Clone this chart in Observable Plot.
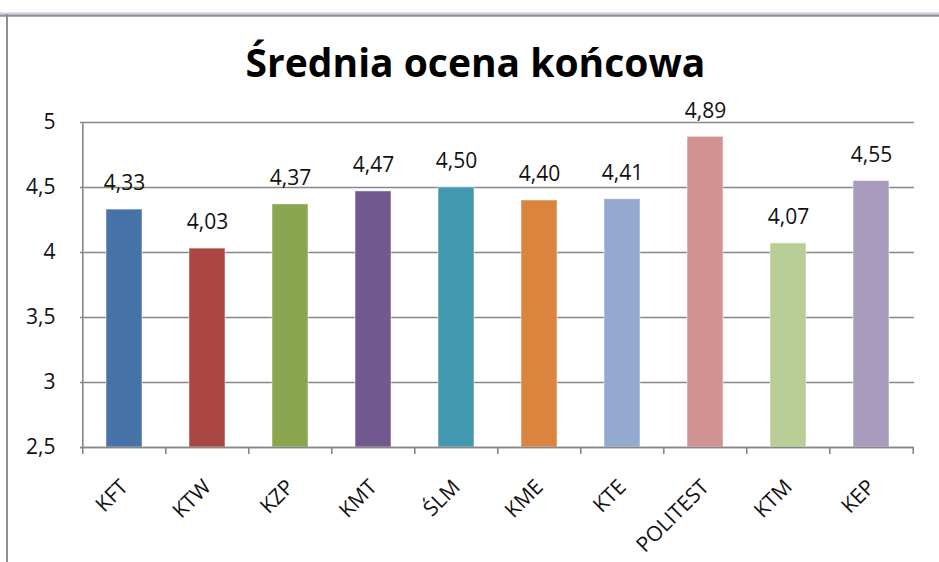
<!DOCTYPE html>
<html>
<head>
<meta charset="utf-8">
<script src="https://cdn.jsdelivr.net/npm/d3@7"></script>
<script src="https://cdn.jsdelivr.net/npm/@observablehq/plot@0.6"></script>
<style>
  html, body { margin: 0; padding: 0; background: #fff; }
  #wrap { position: relative; width: 939px; height: 562px; overflow: hidden; font-family: "Open Sans", sans-serif; }
  #frameTop { position: absolute; left: 0; top: 12px; width: 939px; height: 5px; background: linear-gradient(#e4e7ee, #c9ccd4 40%, #8d9097 70%, #b8bbc2); }
  #frameLeft { position: absolute; left: 6px; top: 14px; width: 2px; height: 548px; background: #8f9096; }
  #title { position: absolute; left: 6px; width: 939px; top: 37px; line-height: 50px; text-align: center; font-size: 39px; font-weight: bold; color: #000; font-family: "Open Sans", sans-serif; }
  #chart { position: absolute; left: 0; top: 95px; }
</style>
</head>
<body>
<div id="wrap">
  <div id="frameTop"></div>
  <div id="frameLeft"></div>
  <div id="title">Średnia ocena końcowa</div>
  <div id="chart"></div>
</div>
<script>
const categories = ["KFT", "KTW", "KZP", "KMT", "ŚLM", "KME", "KTE", "POLITEST", "KTM", "KEP"];
const values = [4.33, 4.03, 4.37, 4.47, 4.50, 4.40, 4.41, 4.89, 4.07, 4.55];
const colors = ["#4572A7", "#AA4643", "#89A54E", "#71588F", "#4198AF", "#DB843D", "#93A9CF", "#D19392", "#B9CD96", "#A99BBD"];
const yTicks = [2.5, 3, 3.5, 4, 4.5, 5];

const data = categories.map((c, i) => ({cat: c, value: values[i], color: colors[i]}));
const fmt = v => String(v).replace(".", ",");
const fmt2 = v => v.toFixed(2).replace(".", ",");

const W = 939, H = 467, mL = 80, mR = 25, mT = 27, mB = 115;
const step = (W - mL - mR) / categories.length;
const gridColor = "#878787";
const font = "'Open Sans', sans-serif";

const chart = Plot.plot({
  width: W,
  height: H,
  marginLeft: mL,
  marginRight: mR,
  marginTop: mT,
  marginBottom: mB,
  style: {fontFamily: font, fontSize: "20px", color: "#000", background: "transparent", overflow: "visible"},
  x: {domain: categories, paddingInner: 0.57, paddingOuter: 0.285, label: null},
  y: {domain: [2.5, 5], label: null},
  marks: [
    Plot.ruleY(yTicks, {stroke: gridColor, strokeWidth: 1.6}),
    Plot.ruleY(yTicks, {x1: categories[0], x2: categories[0], dx: -step / 2, insetLeft: -10, stroke: gridColor, strokeWidth: 1.6}),
    Plot.barY(data, {x: "cat", y1: 2.5, y2: "value", fill: "color", stroke: "#ffffff", strokeOpacity: 0.5, strokeWidth: 1}),
    Plot.ruleY([2.5], {stroke: gridColor, strokeWidth: 1.6}),
    Plot.ruleX([categories[0]], {dx: -step / 2, y1: 2.5, y2: 5, stroke: gridColor, strokeWidth: 1.6}),
    Plot.ruleX(categories, {x: d => d, dx: -step / 2, y1: 2.5, y2: 2.5, insetBottom: -7, stroke: gridColor, strokeWidth: 1.6}),
    Plot.ruleX([categories[categories.length - 1]], {dx: step / 2, y1: 2.5, y2: 2.5, insetBottom: -7, stroke: gridColor, strokeWidth: 1.6}),
    Plot.text(data, {x: "cat", y: "value", text: d => fmt2(d.value), dy: -26, fontSize: 21, fill: "#111"}),
    Plot.axisY(yTicks, {tickSize: 0, tickPadding: 25, tickFormat: fmt, fontSize: 21, fill: "#111"}),
    Plot.axisX({tickSize: 0, tickPadding: 36, dx: 0, tickRotate: -45, fontSize: 21, fill: "#111"})
  ]
});
document.getElementById("chart").appendChild(chart);
</script>
</body>
</html>
